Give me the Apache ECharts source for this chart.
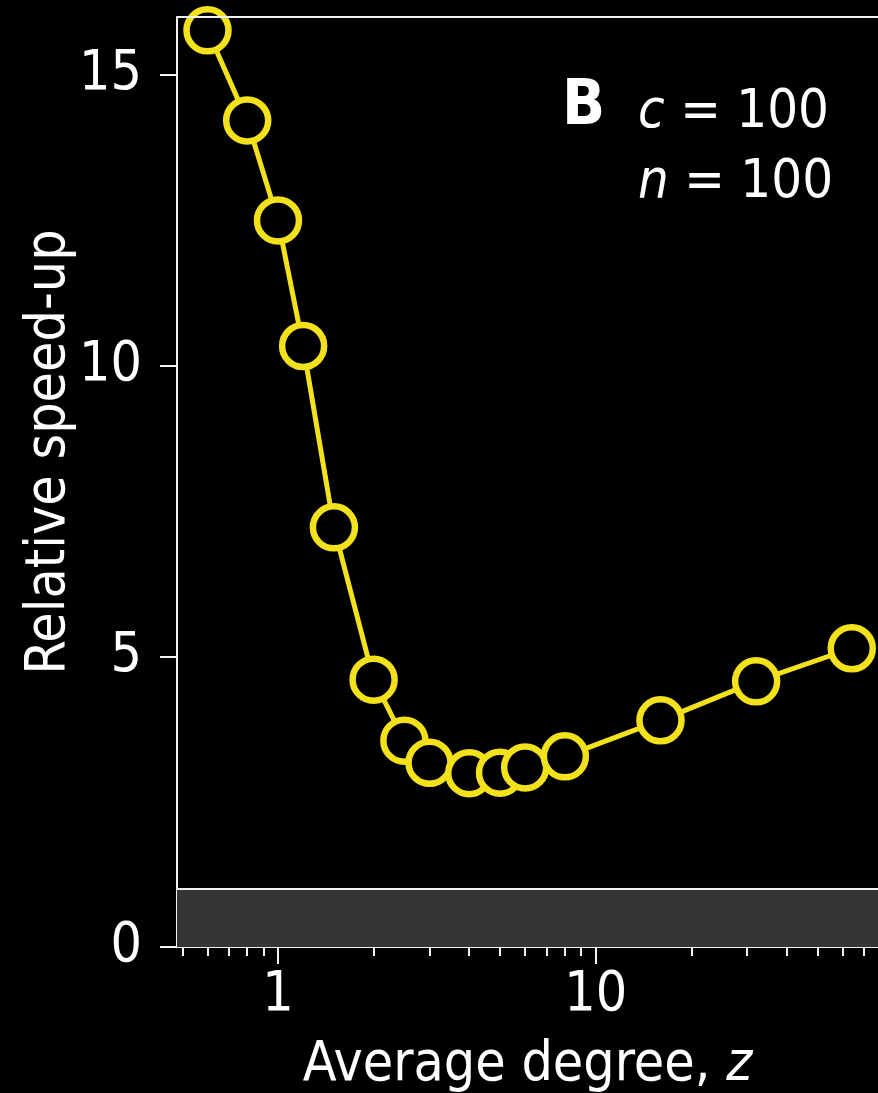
<!DOCTYPE html>
<html>
<head>
<meta charset="utf-8">
<style>
  html, body { margin: 0; padding: 0; background: #000; }
  #chart { width: 878px; height: 1093px; }
</style>
<script src="https://cdn.jsdelivr.net/npm/echarts@6/dist/echarts.min.js"></script>
</head>
<body>
<div id="chart"></div>
<script>
// average degree z and relative speed-up (panel B, c = 100, n = 100)
var degrees = [0.6, 0.8, 1, 1.2, 1.5, 2, 2.5, 3, 4, 5, 6, 8, 16, 32, 64]
var speedUp = [15.77, 14.22, 12.5, 10.34, 7.22, 4.6, 3.55, 3.17, 2.99, 3.0, 3.09, 3.28, 3.9, 4.57, 5.14]

var yTicks = [0, 5, 10, 15]
var xMajorTicks = [1, 10]
var xMinorTicks = [0.5, 0.6, 0.7, 0.8, 0.9, 2, 3, 4, 5, 6, 7, 8, 9, 20, 30, 40, 50, 60, 70]
var bandLevel = 1

var font = "'DejaVu Sans Condensed', 'DejaVu Sans', sans-serif"
var yellow = '#f2e11b'
var white = '#f2f2f2'

var chart = echarts.init(document.getElementById('chart'))

chart.setOption({
  backgroundColor: '#000',
  textStyle: { fontFamily: font },
  grid: {
    left: 177,
    top: 17,
    right: 0,
    bottom: 146,
    containLabel: false,
    outerBoundsMode: 'none'
  },
  xAxis: [{
    type: 'log',
    logBase: 10,
    min: 0.481,
    max: 77.4,
    position: 'bottom',
    name: 'Average degree, {i|z}',
    nameLocation: 'middle',
    nameGap: 91,
    nameMoveOverlap: false,
    nameTextStyle: {
      color: '#fff',
      fontSize: 55,
      fontFamily: font,
      rich: {
        i: { fontStyle: 'italic', fontSize: 55, color: '#fff', fontFamily: font }
      }
    },
    axisLine: { show: true, onZero: false, lineStyle: { color: white, width: 2 } },
    axisTick: {
      show: true,
      customValues: xMajorTicks,
      length: 17,
      lineStyle: { color: white, width: 2 }
    },
    axisLabel: {
      customValues: xMajorTicks,
      margin: 21,
      color: '#fff',
      fontSize: 55,
      fontFamily: font
    },
    splitLine: { show: false }
  }, {
    // minor ticks
    type: 'log',
    logBase: 10,
    min: 0.481,
    max: 77.4,
    position: 'bottom',
    axisLine: { show: false, onZero: false },
    axisTick: {
      show: true,
      customValues: xMinorTicks,
      length: 9,
      lineStyle: { color: white, width: 2 }
    },
    axisLabel: { show: false },
    splitLine: { show: false }
  }],
  yAxis: {
    type: 'value',
    min: 0,
    max: 16,
    interval: 5,
    name: 'Relative speed-up',
    nameLocation: 'middle',
    nameGap: 100,
    nameMoveOverlap: false,
    nameTextStyle: {
      color: '#fff',
      fontSize: 55,
      fontFamily: font,
      padding: [0, 0, 0, 60]
    },
    axisLine: { show: true, lineStyle: { color: white, width: 2 } },
    axisTick: {
      show: true,
      customValues: yTicks,
      length: 17,
      lineStyle: { color: white, width: 2 }
    },
    axisLabel: {
      customValues: yTicks,
      margin: 35,
      color: '#fff',
      fontSize: 55,
      fontFamily: font
    },
    splitLine: { show: false }
  },
  graphic: [{
    type: 'text',
    left: 562,
    top: 76,
    style: {
      text: 'B',
      fill: '#fff',
      font: "bold 63px 'DejaVu Sans Condensed', 'DejaVu Sans', sans-serif"
    }
  }, {
    type: 'text',
    left: 638,
    top: 78,
    style: {
      text: '{i|c} = 100\n{i|n} = 100',
      fill: '#fff',
      fontSize: 54,
      fontFamily: font,
      lineHeight: 70,
      rich: {
        i: { fontStyle: 'italic', fontSize: 54, fontFamily: font, fill: '#fff', lineHeight: 70 }
      }
    }
  }],
  series: [{
    name: 'speed-up',
    type: 'line',
    data: degrees.map(function (d, i) { return [d, speedUp[i]] }),
    symbol: 'circle',
    symbolSize: 42,
    showAllSymbol: true,
    clip: false,
    lineStyle: { color: yellow, width: 5 },
    itemStyle: { color: '#000', borderColor: yellow, borderWidth: 6.5 },
    emphasis: { disabled: true },
    markArea: {
      silent: true,
      itemStyle: { color: '#353535' },
      data: [[{ yAxis: 0 }, { yAxis: bandLevel }]]
    },
    markLine: {
      silent: true,
      symbol: ['none', 'none'],
      label: { show: false },
      lineStyle: { color: white, width: 2, type: 'solid' },
      data: [{ yAxis: bandLevel }, { yAxis: 16 }]
    },
    z: 3
  }]
})
</script>
</body>
</html>
